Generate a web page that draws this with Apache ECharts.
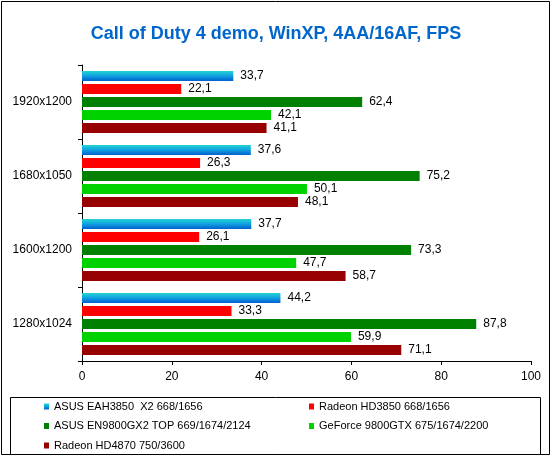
<!DOCTYPE html>
<html>
<head>
<meta charset="utf-8">
<script src="https://cdn.jsdelivr.net/npm/echarts@6/dist/echarts.min.js"></script>
<style>
html,body{margin:0;padding:0;background:#fff;}
#c{width:552px;height:457px;}
</style>
</head>
<body>
<div id="c"></div>
<script>
const categories = ['1920x1200', '1680x1050', '1600x1200', '1280x1024'];
const seriesNames = [
  'ASUS EAH3850  X2 668/1656',
  'Radeon HD3850 668/1656',
  'ASUS EN9800GX2 TOP 669/1674/2124',
  'GeForce 9800GTX 675/1674/2200',
  'Radeon HD4870 750/3600'
];
const eah3850x2 = [33.7, 37.6, 37.7, 44.2];
const hd3850 = [22.1, 26.3, 26.1, 33.3];
const en9800gx2 = [62.4, 75.2, 73.3, 87.8];
const gf9800gtx = [42.1, 50.1, 47.7, 59.9];
const hd4870 = [41.1, 48.1, 58.7, 71.1];
const xTicks = [0, 20, 40, 60, 80, 100];

const values = [eah3850x2, hd3850, en9800gx2, gf9800gtx, hd4870];
const colors = [
  new echarts.graphic.LinearGradient(0, 0, 0, 1, [
    {offset: 0, color: '#22d4d4'},
    {offset: 0.5, color: '#10a0e0'},
    {offset: 1, color: '#0060d0'}
  ]),
  '#ff0000', '#008000', '#00d200', '#960000'
];
const font = 'Liberation Sans, Arial, sans-serif';
const legendText = {fontSize: 11, fontFamily: font, color: '#000', lineHeight: 13};

const chart = echarts.init(document.getElementById('c'), null, {renderer: 'canvas'});
chart.setOption({
  animation: false,
  backgroundColor: '#fff',
  title: {
    text: 'Call of Duty 4 demo, WinXP, 4AA/16AF, FPS',
    left: 'center',
    top: 20,
    textStyle: {color: '#0066cc', fontSize: 18, fontWeight: 'bold', fontFamily: font}
  },
  graphic: [
    {type: 'rect', shape: {x: 1.5, y: 1.5, width: 548, height: 453}, style: {fill: 'none', stroke: '#000', lineWidth: 1}, z: 0},
    {type: 'rect', shape: {x: 10.5, y: 397.5, width: 530, height: 57}, style: {fill: 'none', stroke: '#000', lineWidth: 1}, z: 0}
  ],
  legend: [
    {
      data: [seriesNames[0], seriesNames[2], seriesNames[4]],
      orient: 'vertical', left: 42, top: 398, height: 80, padding: 2,
      itemWidth: 5, itemHeight: 6, itemGap: 6.5, itemTextGap: 4,
      icon: 'rect',
      textStyle: legendText
    },
    {
      data: [seriesNames[1], seriesNames[3]],
      orient: 'vertical', left: 307, top: 398, height: 80, padding: 2,
      itemWidth: 5, itemHeight: 6, itemGap: 6.5, itemTextGap: 2,
      icon: 'rect',
      textStyle: legendText
    }
  ],
  grid: {left: 82, right: 21, top: 65, bottom: 96, containLabel: false},
  xAxis: {
    type: 'value', min: xTicks[0], max: xTicks[xTicks.length - 1], interval: 20,
    splitLine: {show: false},
    axisLine: {show: true, lineStyle: {color: '#000', width: 1}},
    axisTick: {show: true, length: 4, lineStyle: {color: '#000'}},
    axisLabel: {color: '#000', fontSize: 12, fontFamily: font, margin: 10}
  },
  yAxis: {
    type: 'category', data: categories, inverse: true,
    axisLine: {show: true, lineStyle: {color: '#000', width: 1}},
    axisTick: {show: true, length: 4, lineStyle: {color: '#000'}},
    axisLabel: {color: '#000', fontSize: 12, fontFamily: font, margin: 10}
  },
  series: seriesNames.map((name, i) => ({
    name: name,
    type: 'bar',
    data: values[i],
    barWidth: 10,
    barGap: '30%',
    itemStyle: {color: colors[i]},
    label: {
      show: true, position: 'right', distance: 7,
      color: '#000', fontSize: 12, fontFamily: font,
      formatter: p => p.value.toFixed(1).replace('.', ',')
    }
  }))
});
</script>
</body>
</html>
